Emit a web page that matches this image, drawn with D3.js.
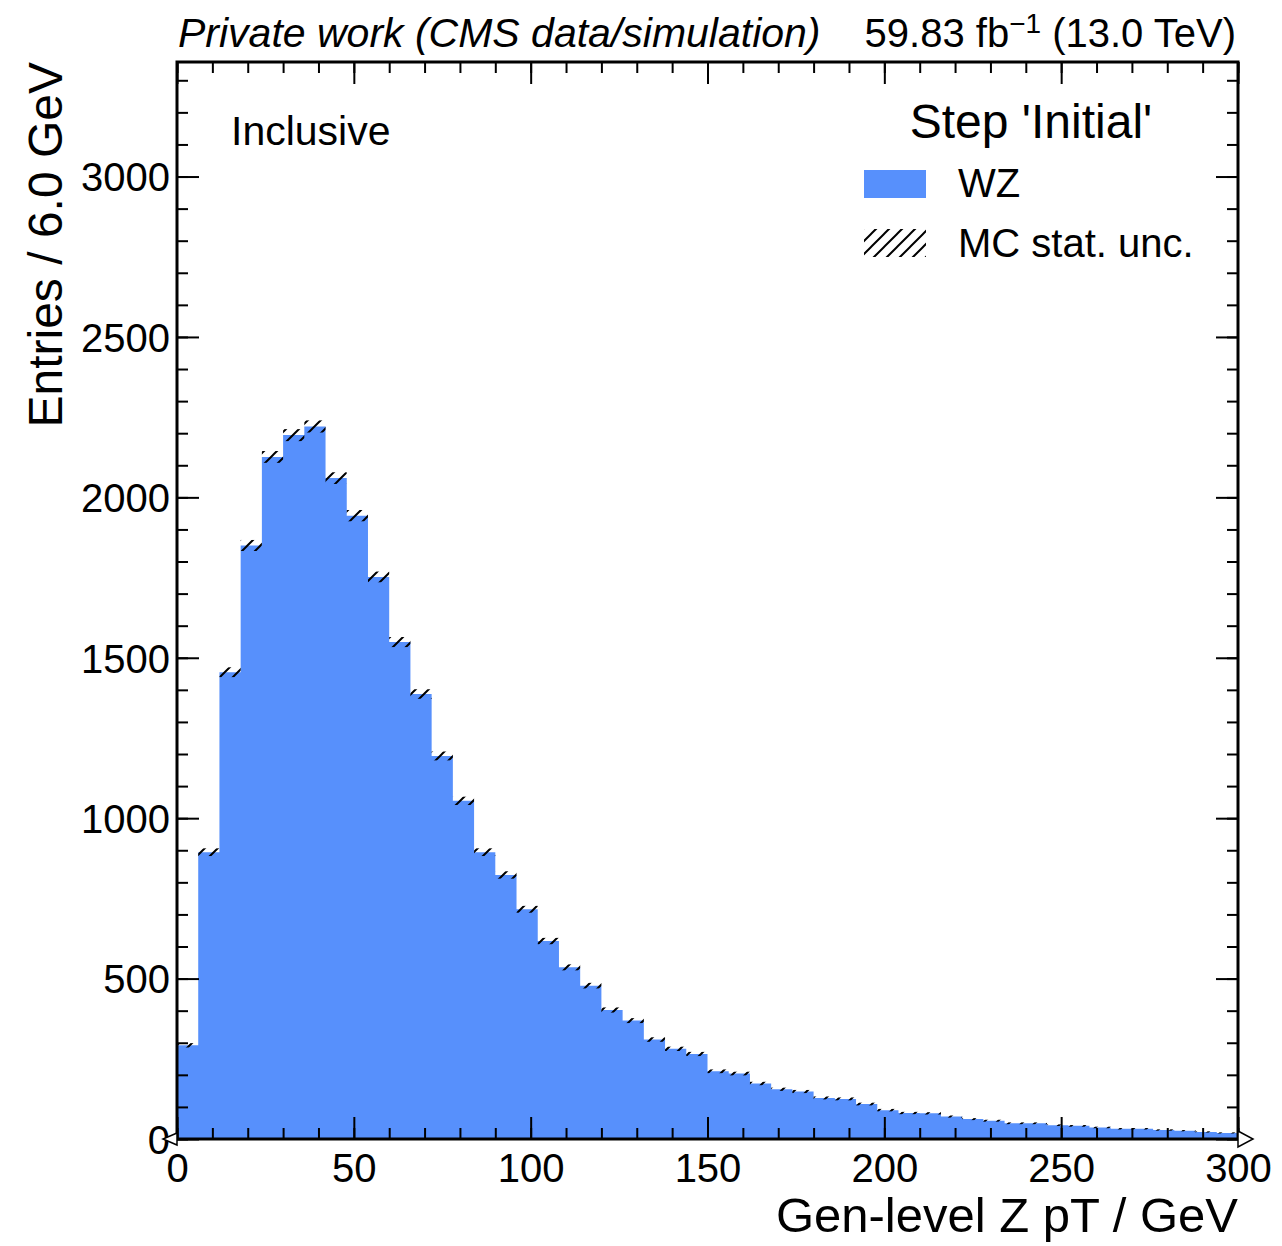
<!DOCTYPE html>
<html>
<head>
<meta charset="utf-8">
<script src="https://cdn.jsdelivr.net/npm/d3@7/dist/d3.min.js"></script>
<style>
  html, body { margin: 0; padding: 0; background: #fff; }
  svg text { font-family: "Liberation Sans", Arial, Helvetica, sans-serif; fill: #000; }
</style>
</head>
<body>
<svg id="chart" width="1282" height="1246"></svg>
<script>
// Gen-level Z pT histogram, 6 GeV bins from 0 to 300 GeV
const binEdges = d3.range(0, 301, 6);
const wzCounts = [292, 894, 1455, 1850, 2126, 2194, 2221, 2060, 1943, 1752,
                  1549, 1387, 1194, 1054, 894, 823, 716, 617, 535, 478,
                  402, 369, 310, 281, 265, 211, 204, 173, 155, 148,
                  128, 125, 109, 90, 81, 80, 70, 62, 57, 49,
                  49, 43, 41, 36, 32, 32, 28, 26, 22, 19];
const statUnc = [6.8, 12.0, 15.3, 17.2, 18.4, 18.7, 18.9, 18.2, 17.6, 16.7,
                 15.7, 14.9, 13.8, 13.0, 12.0, 11.5, 10.7, 9.9, 9.3, 8.7,
                 8.0, 7.7, 7.0, 6.7, 6.5, 5.8, 5.7, 5.3, 5.0, 4.9,
                 4.5, 4.5, 4.2, 3.8, 3.6, 3.6, 3.3, 3.1, 3.0, 2.8,
                 2.8, 2.6, 2.6, 2.4, 2.3, 2.3, 2.1, 2.0, 1.9, 1.7];
const xMajorTicks = [0, 50, 100, 150, 200, 250, 300];
const xMinorTicks = d3.range(0, 301, 10);
const yMajorTicks = [0, 500, 1000, 1500, 2000, 2500, 3000];
const yMinorTicks = d3.range(0, 3301, 100);
const yMax = 3357;

const fillBlue = "#5790fc";
const L = 177, R = 1238, T = 62, B = 1139;

const svg = d3.select("#chart");

const x = d3.scaleLinear().domain([0, 300]).range([L, R]);
const y = d3.scaleLinear().domain([0, yMax]).range([B, T]);

// hatch pattern for the MC statistical uncertainty
const hs = 13;
const defs = svg.append("defs");
const hatch = defs.append("pattern")
  .attr("id", "hatch")
  .attr("patternUnits", "userSpaceOnUse")
  .attr("width", hs).attr("height", hs);
hatch.append("path")
  .attr("d", `M-2,2 L2,-2 M0,${hs} L${hs},0 M${hs - 2},${hs + 2} L${hs + 2},${hs - 2}`)
  .attr("stroke", "#000").attr("stroke-width", 2).attr("fill", "none");

defs.append("clipPath").attr("id", "plotclip")
  .append("rect").attr("x", L).attr("y", T).attr("width", R - L).attr("height", B - T);

const bins = wzCounts.map((v, i) => ({ x0: binEdges[i], x1: binEdges[i + 1], v, e: statUnc[i] }));

// filled histogram drawn as a step area
const stepPts = bins.map(b => [b.x0, b.v]).concat([[binEdges[binEdges.length - 1], wzCounts[wzCounts.length - 1]]]);
const area = d3.area()
  .x(d => x(d[0]))
  .y0(y(0))
  .y1(d => y(d[1]))
  .curve(d3.curveStepAfter);

const plot = svg.append("g").attr("clip-path", "url(#plotclip)");
plot.append("path")
  .datum(stepPts)
  .attr("d", area)
  .attr("fill", fillBlue);

// uncertainty bands
plot.selectAll("rect.unc")
  .data(bins)
  .join("rect")
  .attr("class", "unc")
  .attr("x", d => x(d.x0))
  .attr("width", d => x(d.x1) - x(d.x0))
  .attr("y", d => y(d.v + d.e))
  .attr("height", d => y(d.v - d.e) - y(d.v + d.e))
  .attr("fill", "url(#hatch)");

// axes with inward ticks on all four sides
function styleAxis(g) {
  g.select(".domain").remove();
  g.selectAll(".tick line").attr("stroke", "#000").attr("stroke-width", 2);
}
const tickFont = 40;

svg.append("g").attr("transform", `translate(0,${B})`)
  .call(d3.axisBottom(x).tickValues(xMinorTicks).tickSize(-11).tickFormat(""))
  .call(styleAxis);
const xAxisG = svg.append("g").attr("transform", `translate(0,${B})`)
  .call(d3.axisBottom(x).tickValues(xMajorTicks).tickSize(-22).tickPadding(0).tickFormat(d3.format("d")))
  .call(styleAxis);
xAxisG.selectAll(".tick text")
  .attr("y", 43).attr("dy", 0)
  .style("font-size", tickFont + "px");

svg.append("g").attr("transform", `translate(0,${T})`)
  .call(d3.axisTop(x).tickValues(xMinorTicks).tickSize(-11).tickFormat(""))
  .call(styleAxis);
svg.append("g").attr("transform", `translate(0,${T})`)
  .call(d3.axisTop(x).tickValues(xMajorTicks).tickSize(-22).tickFormat(""))
  .call(styleAxis);

svg.append("g").attr("transform", `translate(${L},0)`)
  .call(d3.axisLeft(y).tickValues(yMinorTicks).tickSize(-11).tickFormat(""))
  .call(styleAxis);
const yAxisG = svg.append("g").attr("transform", `translate(${L},0)`)
  .call(d3.axisLeft(y).tickValues(yMajorTicks).tickSize(-22).tickFormat(d3.format("d")))
  .call(styleAxis);
yAxisG.selectAll(".tick text")
  .attr("x", -7).attr("dy", "0.36em")
  .style("font-size", tickFont + "px");

svg.append("g").attr("transform", `translate(${R},0)`)
  .call(d3.axisRight(y).tickValues(yMinorTicks).tickSize(-11).tickFormat(""))
  .call(styleAxis);
svg.append("g").attr("transform", `translate(${R},0)`)
  .call(d3.axisRight(y).tickValues(yMajorTicks).tickSize(-22).tickFormat(""))
  .call(styleAxis);

// frame
svg.append("rect")
  .attr("x", L).attr("y", T).attr("width", R - L).attr("height", B - T)
  .attr("fill", "none").attr("stroke", "#000").attr("stroke-width", 3);

// open arrow heads at the axis ends
svg.append("path")
  .attr("d", `M${L},${B - 6} L${L - 14},${B} L${L},${B + 6} Z`)
  .attr("fill", "#fff").attr("stroke", "#000").attr("stroke-width", 1.5);
svg.append("path")
  .attr("d", `M${R},${B - 8} L${R + 15},${B} L${R},${B + 8} Z`)
  .attr("fill", "#fff").attr("stroke", "#000").attr("stroke-width", 1.5);

// axis titles
svg.append("text")
  .attr("x", R).attr("y", 1232)
  .attr("text-anchor", "end")
  .style("font-size", "49px")
  .text("Gen-level Z pT / GeV");
svg.append("text")
  .attr("transform", `translate(62,${T}) rotate(-90)`)
  .attr("text-anchor", "end")
  .style("font-size", "48px")
  .text("Entries / 6.0 GeV");

// header
svg.append("text")
  .attr("x", 178).attr("y", 47)
  .style("font-size", "41px").style("font-style", "italic")
  .text("Private work (CMS data/simulation)");
const lumi = svg.append("text")
  .attr("x", 1236).attr("y", 47)
  .attr("text-anchor", "end")
  .style("font-size", "40px");
lumi.append("tspan").text("59.83 fb");
lumi.append("tspan").attr("dy", -14).style("font-size", "28px").text("\u22121");
lumi.append("tspan").attr("dy", 14).text(" (13.0 TeV)");

// category label
svg.append("text")
  .attr("x", 231).attr("y", 145)
  .style("font-size", "41px")
  .text("Inclusive");

// legend
svg.append("text")
  .attr("x", 1031).attr("y", 138)
  .attr("text-anchor", "middle")
  .style("font-size", "48px")
  .text("Step 'Initial'");
svg.append("rect")
  .attr("x", 864).attr("y", 170).attr("width", 62).attr("height", 28)
  .attr("fill", fillBlue);
svg.append("text")
  .attr("x", 958).attr("y", 197)
  .style("font-size", "40px")
  .text("WZ");
svg.append("rect")
  .attr("x", 864).attr("y", 229).attr("width", 62).attr("height", 28)
  .attr("fill", "url(#hatch)");
svg.append("text")
  .attr("x", 958).attr("y", 257)
  .style("font-size", "40px")
  .text("MC stat. unc.");
</script>
</body>
</html>
